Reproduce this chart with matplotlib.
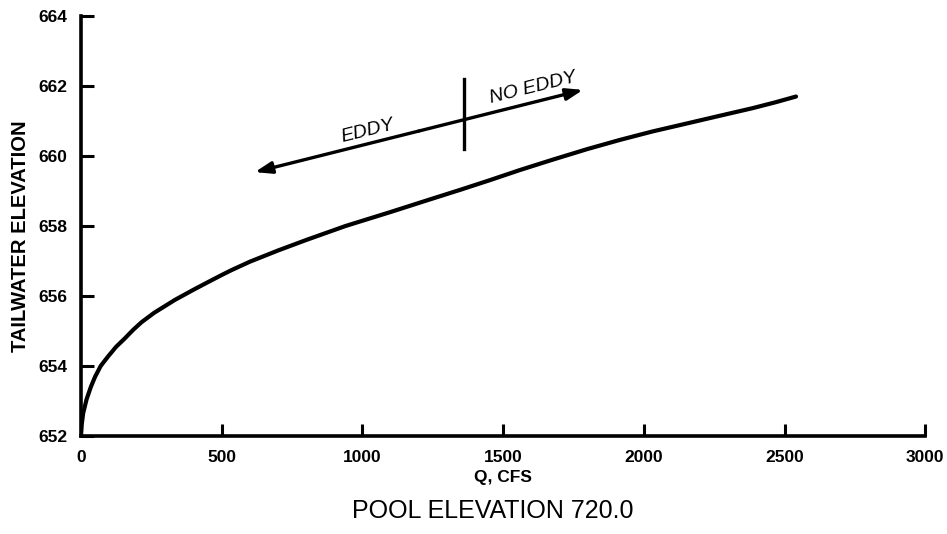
import numpy as np
import matplotlib
matplotlib.use("Agg")
import matplotlib.pyplot as plt

# Tailwater rating curve, pool elevation 720.0
discharge = [0, 3, 8, 20, 35, 50, 70, 96, 125, 156, 185, 215, 260, 334, 400,
             452, 500, 535, 600, 700, 800, 940, 1100, 1240, 1350, 1453, 1560,
             1678, 1800, 1915, 2030, 2153, 2270, 2388, 2470, 2541]
tailwater = [652.0, 652.35, 652.66, 653.05, 653.4, 653.69, 654.0, 654.27,
             654.55, 654.79, 655.03, 655.25, 655.52, 655.89, 656.18, 656.4,
             656.6, 656.74, 656.98, 657.3, 657.6, 658.0, 658.4, 658.76,
             659.04, 659.31, 659.6, 659.9, 660.2, 660.46, 660.7, 660.93,
             661.15, 661.37, 661.54, 661.7]

x_ticks = [0, 500, 1000, 1500, 2000, 2500, 3000]
y_ticks = [652, 654, 656, 658, 660, 662, 664]

# eddy / no-eddy arrow ends and the boundary between them
eddy_end = (618, 659.54)
no_eddy_end = (1784, 661.89)
boundary_q = 1361
boundary_span = (660.2, 662.2)

plt.rcParams['font.family'] = ['Liberation Sans', 'DejaVu Sans']

fig = plt.figure(figsize=(9.47, 5.34), dpi=100)
ax = fig.add_axes([0.0855, 0.1835, 0.8915, 0.7865])

ax.plot(discharge, tailwater, color='black', lw=3.0, solid_capstyle='round',
        solid_joinstyle='round')

ax.set_xlim(0, 3000)
ax.set_ylim(652, 664)
ax.set_xticks(x_ticks)
ax.set_yticks(y_ticks)
ax.set_xticklabels([str(v) for v in x_ticks], fontweight='bold', fontsize=12.5)
ax.set_yticklabels([str(v) for v in y_ticks], fontweight='bold', fontsize=12.5)
ax.tick_params(direction='in', length=9, width=2.2, color='black')
ax.tick_params(axis='x', pad=10)
ax.tick_params(axis='y', pad=10)

for side in ('top', 'right'):
    ax.spines[side].set_visible(False)
for side in ('left', 'bottom'):
    ax.spines[side].set_linewidth(2.6)

ax.set_ylabel('TAILWATER ELEVATION', fontweight='bold', fontsize=14.5)
ax.yaxis.set_label_coords(-0.06, 0.475)
ax.set_xlabel('Q, CFS', fontweight='bold', fontsize=12.5, labelpad=4)

# arrow with heads on both ends, split by the eddy boundary
mid = ((eddy_end[0] + no_eddy_end[0]) / 2, (eddy_end[1] + no_eddy_end[1]) / 2)
arrow_style = dict(arrowstyle='-|>,head_length=1.0,head_width=0.35',
                   color='black', lw=2.4, shrinkA=0, shrinkB=0)
ax.annotate('', xy=eddy_end, xytext=mid, arrowprops=arrow_style)
ax.annotate('', xy=no_eddy_end, xytext=mid, arrowprops=arrow_style)
ax.plot([boundary_q, boundary_q], boundary_span, color='black', lw=2.4)

ax.text(1020, 660.71, 'EDDY', rotation=14, fontsize=14, style='italic',
        ha='center', va='center')
ax.text(1606, 661.95, 'NO EDDY', rotation=14, fontsize=14, style='italic',
        ha='center', va='center')

fig.text(0.52, 0.043, 'POOL ELEVATION 720.0', fontsize=18, ha='center',
         va='center')

fig.savefig('out.png', dpi=100)
